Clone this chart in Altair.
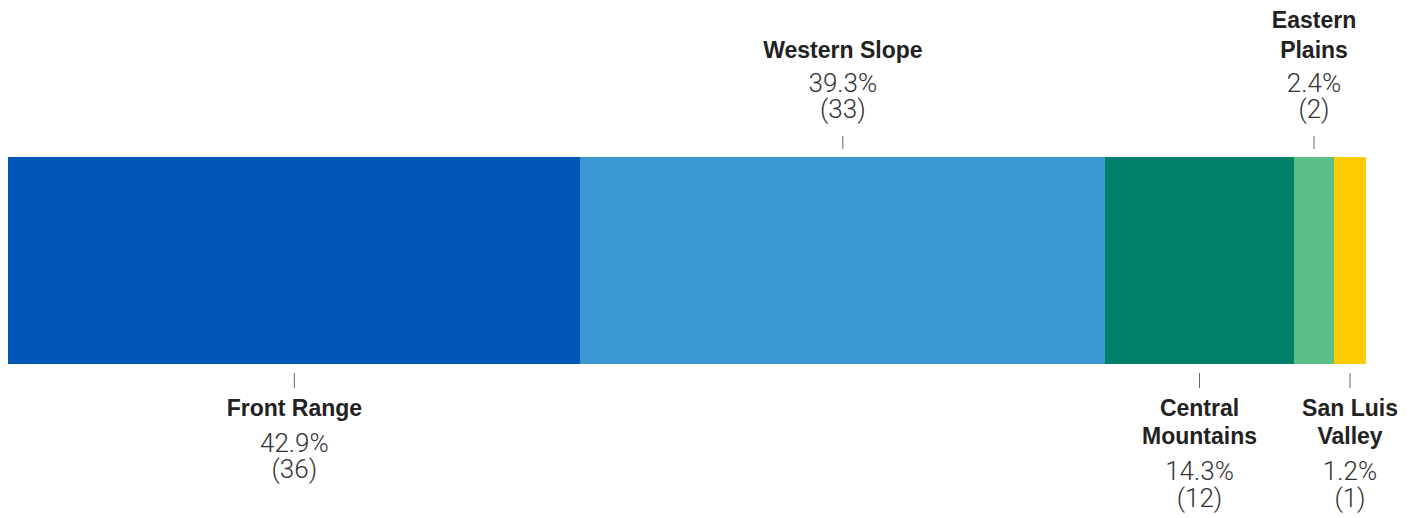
import altair as alt
import pandas as pd

# Data
regions = ["Front Range", "Western Slope", "Central\nMountains", "Eastern\nPlains", "San Luis\nValley"]
counts = [36, 33, 12, 2, 1]
# visual segment spans as drawn in the reference (small segments are widened)
bar_span = [572.7, 524.3, 189.0, 40.0, 32.0]
label_side = ["below", "above", "below", "above", "below"]
colors = ["#0057b8", "#3b99d1", "#00806b", "#5bbf8a", "#ffcc00"]

total = sum(counts)
starts, ends = [], []
acc = 0.0
for s in bar_span:
    starts.append(acc)
    acc += s
    ends.append(acc)

df = pd.DataFrame({
    "region": regions,
    "count": counts,
    "pct": [c / total for c in counts],
    "start": starts,
    "end": ends,
    "mid": [(a + b) / 2 for a, b in zip(starts, ends)],
    "side": label_side,
    "lines": [r.count("\n") + 1 for r in regions],
})

xscale = alt.Scale(domain=[0, acc], range=[8, 1366])
base = alt.Chart(df)

bars = base.mark_bar().encode(
    x=alt.X("start:Q", scale=xscale, axis=None),
    x2="end:Q",
    y=alt.value(157),
    y2=alt.value(364),
    color=alt.Color("region:N", scale=alt.Scale(domain=regions, range=colors), legend=None),
)

mid_x = alt.X("mid:Q", scale=xscale, axis=None)

ticks_above = base.mark_rule(color="#666666", strokeWidth=1).encode(
    x=mid_x, y=alt.value(136), y2=alt.value(149)
).transform_filter("datum.side == 'above'")

ticks_below = base.mark_rule(color="#666666", strokeWidth=1).encode(
    x=mid_x, y=alt.value(373), y2=alt.value(388)
).transform_filter("datum.side == 'below'")

name_font = "Liberation Sans"
stat_font = "Roboto"


def name_layer(y, lh, cond):
    return base.mark_text(
        font=name_font, fontSize=23, fontWeight="bold", color="#222222",
        baseline="alphabetic", align="center", lineBreak="\n", lineHeight=lh,
    ).encode(x=mid_x, y=alt.value(y), text="region:N").transform_filter(cond)


stat_calc = "format(datum.pct, '.1%') + '\\n(' + datum.count + ')'"


def stat_layer(y, lh, cond):
    return base.mark_text(
        font=stat_font, fontSize=26, fontWeight=300, color="#333333",
        baseline="alphabetic", align="center", lineBreak="\n", lineHeight=lh,
    ).encode(x=mid_x, y=alt.value(y), text="stat:N").transform_filter(
        cond
    ).transform_calculate(stat=stat_calc)


names_above_1 = name_layer(57.5, 30, "datum.side == 'above' && datum.lines == 1")
names_above_2 = name_layer(28, 30, "datum.side == 'above' && datum.lines == 2")
stats_above = stat_layer(92, 26, "datum.side == 'above'")

names_below = name_layer(416, 28, "datum.side == 'below'")
stats_below_1 = stat_layer(452, 26, "datum.side == 'below' && datum.lines == 1")
stats_below_2 = stat_layer(480, 26.5, "datum.side == 'below' && datum.lines == 2")

chart = alt.layer(
    bars, ticks_above, ticks_below, names_above_1, names_above_2, stats_above,
    names_below, stats_below_1, stats_below_2,
).properties(
    width=1413, height=518, autosize="none", padding=0,
).configure_view(stroke=None)

chart.save("out.html", embed_options={"renderer": "svg", "actions": False})
